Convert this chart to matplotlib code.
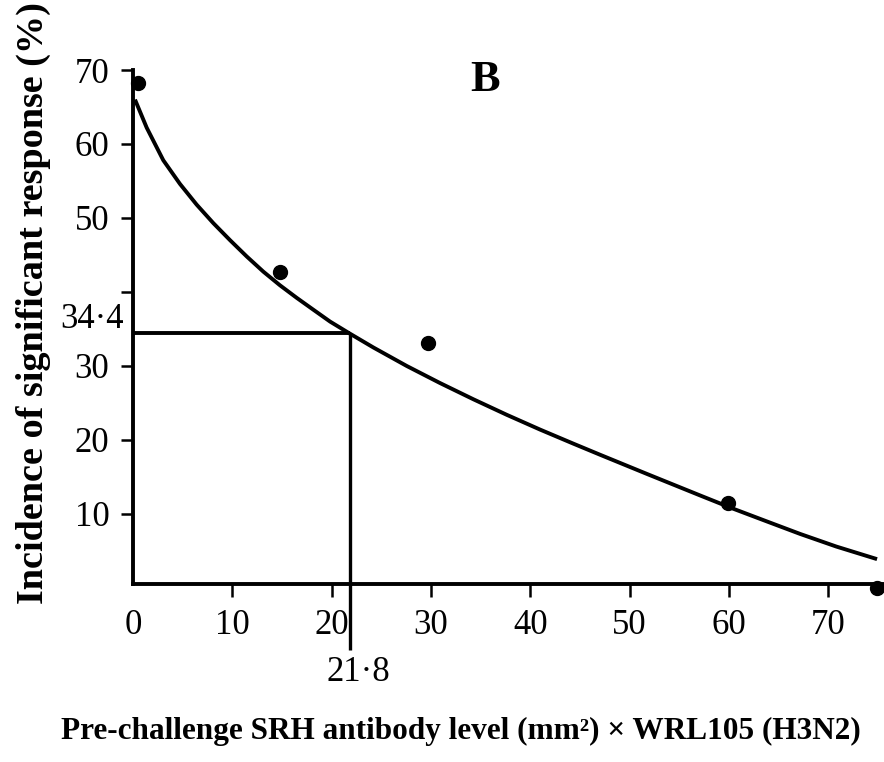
import matplotlib
matplotlib.use("Agg")
import matplotlib.pyplot as plt

# Observed incidence of significant response at each antibody level
obs_x = [0.5, 14.8, 29.7, 59.9, 74.9]
obs_y = [68.2, 42.7, 33.1, 11.5, 0.0]

# Fitted response curve
fit_x = [0.2, 1.38, 3.05, 4.73, 6.41, 8.09, 9.77, 11.45, 13.12, 14.8, 16.49,
         18.16, 19.84, 21.8, 24.2, 27.56, 30.9, 34.27, 37.63, 40.99, 44.34,
         47.03, 51.76, 57.1, 60.45, 63.8, 67.17, 70.8, 74.9]
fit_y = [66.0, 62.2, 57.8, 54.6, 51.8, 49.3, 47.0, 44.8, 42.75, 40.9, 39.2,
         37.6, 36.0, 34.4, 32.5, 30.0, 27.7, 25.5, 23.4, 21.4, 19.5,
         18.0, 15.4, 12.5, 10.7, 9.0, 7.3, 5.6, 3.9]

# 50% protective level
pd50_x = 21.8
pd50_y = 34.4

x_ticks = [0, 10, 20, 30, 40, 50, 60, 70]
y_ticks = [10, 20, 30, 40, 50, 60, 70]
y_tick_labels = ["10", "20", "30", "", "50", "60", "70"]

plt.rcParams["font.family"] = ["Liberation Serif", "DejaVu Serif"]

W, H = 884, 762
fig = plt.figure(figsize=(W / 100, H / 100), dpi=100)

x_min, x_max = 0.0, 75.6
y_min, y_max = 0.54, 70.0
ax_left, ax_right = 133, 884
ax_top, ax_bottom = 70, 584
ax = fig.add_axes([ax_left / W, 1 - ax_bottom / H,
                   (ax_right - ax_left) / W, (ax_bottom - ax_top) / H])
ax.set_xlim(x_min, x_max)
ax.set_ylim(y_min, y_max)

lw = 2.8
for side in ("top", "right"):
    ax.spines[side].set_visible(False)
for side in ("left", "bottom"):
    ax.spines[side].set_linewidth(lw)
    ax.spines[side].set_capstyle("projecting")

ax.set_xticks(x_ticks)
ax.set_xticklabels([str(v) for v in x_ticks])
ax.set_yticks(y_ticks)
ax.set_yticklabels(y_tick_labels)
ax.tick_params(axis="x", direction="out", length=9, width=1.8, pad=9,
               labelsize=25)
ax.tick_params(axis="y", direction="out", length=9, width=1.8, pad=8,
               labelsize=25)
# no tick mark under the origin
ax.xaxis.get_majorticklines()[0].set_visible(False)
ax.xaxis.get_majorticklines()[1].set_visible(False)

# fitted curve and observations
ax.plot(fit_x, fit_y, color="black", lw=lw, solid_capstyle="butt",
        solid_joinstyle="round", clip_on=False, zorder=3)
ax.plot(obs_x, obs_y, "o", color="black", ms=10, clip_on=False, zorder=4)

# guide lines to the 50% point
ax.plot([x_min, pd50_x], [pd50_y, pd50_y], color="black", lw=lw,
        solid_capstyle="butt", zorder=2)
ax.plot([pd50_x, pd50_x], [pd50_y, -8.4], color="black", lw=2.4,
        solid_capstyle="butt", clip_on=False, zorder=2)

ax.annotate("34·4", xy=(x_min, pd50_y), xytext=(-7, 10),
            textcoords="offset points", ha="right", va="center",
            fontsize=25, annotation_clip=False)
ax.annotate("21·8", xy=(pd50_x, y_min), xytext=(6.5, -64),
            textcoords="offset points", ha="center", va="center",
            fontsize=25, annotation_clip=False)

fig.text(485 / W, 1 - 80 / H, "B", ha="center", va="center",
         fontsize=32, fontweight="bold")

fig.text(461 / W, 1 - 731 / H,
         "Pre-challenge SRH antibody level (mm²) × WRL105 (H3N2)",
         ha="center", va="center", fontsize=22.5, fontweight="bold")

fig.text(33 / W, 1 - 604 / H, "Incidence of significant response (%)",
         rotation=90, ha="center", va="bottom", fontsize=27.5,
         fontweight="bold")

fig.savefig("out.png", dpi=100)
